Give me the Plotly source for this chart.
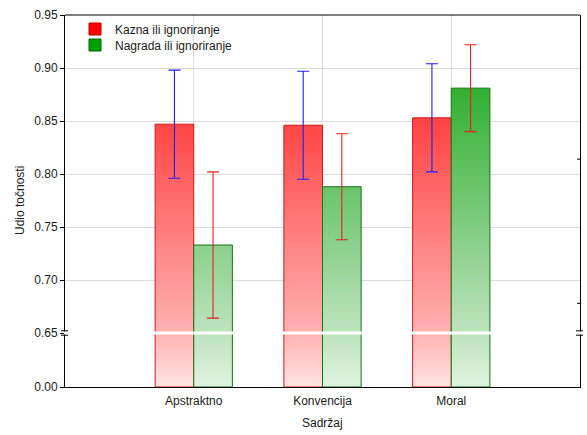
import plotly.graph_objects as go

# ---- data ----
categories = ["Apstraktno", "Konvencija", "Moral"]
kazna = [0.847, 0.846, 0.853]
kazna_err = [0.051, 0.051, 0.051]
nagrada = [0.733, 0.788, 0.881]
nagrada_err = [0.069, 0.050, 0.041]
series_names = ["Kazna ili ignoriranje", "Nagrada ili ignoriranje"]
y_ticks_top = [0.65, 0.70, 0.75, 0.80, 0.85, 0.90, 0.95]
right_ticks = [0.814, 0.678]
y_break = 0.65
y_top = 0.95

positions = [1, 2, 3]
bar_w = 0.3
FONT = "Liberation Sans, Arial, sans-serif"

# plot geometry (pixels)
L, R, T, B = 65, 7, 15, 48
W, H = 587, 435
plot_h = H - T - B
plot_w = W - L - R
bottom_frac = 54 / plot_h

# gradient colours: (bottom of lower part, at break, at top of plot)
red_cols = ["rgb(255,228,228)", "rgb(255,178,178)", "rgb(255,12,12)"]
green_cols = ["rgb(224,242,224)", "rgb(189,227,189)", "rgb(8,160,8)"]


def polygons(values, side, lo_fn):
    xs, ys = [], []
    for p, v in zip(positions, values):
        x0 = p - bar_w if side == "left" else p
        x1 = x0 + bar_w
        lo, hi = lo_fn(v)
        xs += [x0, x0, x1, x1, x0, None]
        ys += [lo, hi, hi, lo, lo, None]
    return xs, ys


fig = go.Figure()

specs = [
    (kazna, "left", red_cols, "rgb(205,25,25)"),
    (nagrada, "right", green_cols, "rgb(25,115,25)"),
]
for vals, side, cols, edge in specs:
    xs, ys = polygons(vals, side, lambda v: (0, y_break))
    fig.add_trace(go.Scatter(
        x=xs, y=ys, mode="lines", fill="toself", xaxis="x", yaxis="y",
        line=dict(color=edge, width=1),
        fillgradient=dict(type="vertical", start=0, stop=y_break,
                          colorscale=[[0, cols[0]], [1, cols[1]]]),
        showlegend=False, hoverinfo="skip"))
    xs, ys = polygons(vals, side, lambda v: (y_break, v))
    fig.add_trace(go.Scatter(
        x=xs, y=ys, mode="lines", fill="toself", xaxis="x", yaxis="y2",
        line=dict(color=edge, width=1),
        fillgradient=dict(type="vertical", start=y_break, stop=y_top,
                          colorscale=[[0, cols[1]], [1, cols[2]]]),
        showlegend=False, hoverinfo="skip"))

# error bars
fig.add_trace(go.Scatter(
    x=[p - bar_w / 2 for p in positions], y=kazna, mode="markers",
    marker=dict(size=1, opacity=0), xaxis="x", yaxis="y2", showlegend=False,
    hoverinfo="skip",
    error_y=dict(type="data", array=kazna_err, visible=True,
                 color="rgb(30,30,255)", thickness=1.1, width=6)))
fig.add_trace(go.Scatter(
    x=[p + bar_w / 2 for p in positions], y=nagrada, mode="markers",
    marker=dict(size=1, opacity=0), xaxis="x", yaxis="y2", showlegend=False,
    hoverinfo="skip",
    error_y=dict(type="data", array=nagrada_err, visible=True,
                 color="rgb(225,35,35)", thickness=1.1, width=6)))

# legend entries (one legend each for exact row placement)
fig.add_trace(go.Bar(x=[None], y=[None], name=series_names[0], xaxis="x", yaxis="y2",
                     legend="legend",
                     marker=dict(color="rgb(255,0,0)", line=dict(color="rgb(190,0,0)", width=1))))
fig.add_trace(go.Bar(x=[None], y=[None], name=series_names[1], xaxis="x", yaxis="y2",
                     legend="legend2",
                     marker=dict(color="rgb(0,160,0)", line=dict(color="rgb(0,100,0)", width=1))))

axis_font = dict(family=FONT, size=12, color="#1a1a1a")

shapes = []
shapes.append(dict(type="line", xref="paper", yref="paper", x0=0, x1=1, y0=1, y1=1,
                   line=dict(color="black", width=1), layer="above"))
shapes.append(dict(type="line", xref="paper", yref="paper", x0=-0.002, x1=1.002,
                   y0=bottom_frac, y1=bottom_frac,
                   line=dict(color="white", width=3), layer="above"))
dy = 2.2 / plot_h
for xc in (0, 1):
    for s in (-1, 1):
        shapes.append(dict(type="line", xref="paper", yref="paper",
                           x0=xc - 4 / plot_w, x1=xc + 3 / plot_w,
                           y0=bottom_frac + s * dy, y1=bottom_frac + s * dy,
                           line=dict(color="black", width=1), layer="above"))
for rt in right_ticks:
    shapes.append(dict(type="line", xref="paper", yref="y2",
                       x0=1 - 3 / plot_w, x1=1, y0=rt, y1=rt,
                       line=dict(color="black", width=1), layer="above"))

leg_common = dict(xanchor="left", yanchor="middle", bgcolor="rgba(0,0,0,0)",
                  font=dict(family=FONT, size=12, color="#1a1a1a"), itemwidth=30)

fig.update_layout(
    width=W, height=H,
    margin=dict(l=L, r=R, t=T, b=B),
    paper_bgcolor="white", plot_bgcolor="white",
    font=axis_font,
    barmode="overlay",
    showlegend=True,
    legend=dict(x=10 / plot_w, y=1 - (29 - T) / plot_h, **leg_common),
    legend2=dict(x=10 / plot_w, y=1 - (45 - T) / plot_h, **leg_common),
    xaxis=dict(range=[0, 4], tickvals=positions, ticktext=categories,
               showgrid=True, gridcolor="#dcdcdc", gridwidth=1,
               showline=True, linecolor="black", linewidth=1,
               ticks="", zeroline=False, anchor="y", tickfont=axis_font,
               ticklabelstandoff=3),
    yaxis=dict(domain=[0, bottom_frac], range=[0, y_break], tickvals=[0],
               ticktext=["0.00"], ticks="outside", ticklen=4, tickcolor="black",
               showgrid=False, zeroline=False, showline=True, linecolor="black",
               linewidth=1, mirror=True, anchor="x", tickfont=axis_font),
    yaxis2=dict(domain=[bottom_frac, 1], range=[y_break, y_top], tickvals=y_ticks_top,
                tickformat=".2f", ticks="outside", ticklen=4, tickcolor="black",
                showgrid=True, gridcolor="#dcdcdc", gridwidth=1, zeroline=False,
                showline=True, linecolor="black", linewidth=1, mirror=True,
                anchor="x", tickfont=axis_font),
    shapes=shapes,
    annotations=[
        dict(text="Udio točnosti", xref="paper", yref="paper", x=-45 / plot_w, y=0.5,
             xanchor="center", yanchor="middle", textangle=-90, showarrow=False,
             font=axis_font),
        dict(text="Sadržaj", xref="paper", yref="paper", x=0.5, y=-36 / plot_h,
             xanchor="center", yanchor="middle", showarrow=False, font=axis_font),
    ],
)

fig.write_html("out.html", config={"displayModeBar": False},
               post_script="document.body.style.margin='0';document.body.style.overflow='hidden';")
